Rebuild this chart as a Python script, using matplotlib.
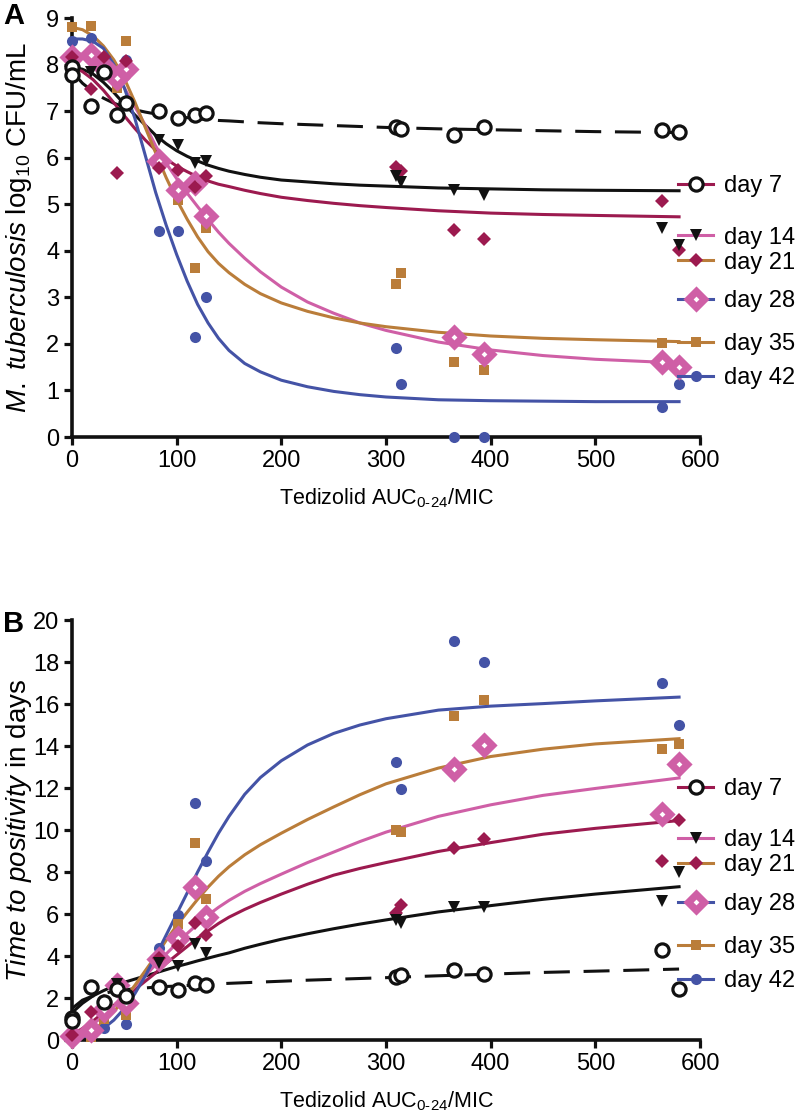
import matplotlib
matplotlib.use("Agg")
import matplotlib.pyplot as plt
import numpy as np
from matplotlib.lines import Line2D

plt.rcParams['font.family'] = ['Liberation Sans', 'DejaVu Sans']
plt.rcParams['mathtext.fontset'] = 'custom'
plt.rcParams['mathtext.rm'] = 'Liberation Sans'
plt.rcParams['mathtext.it'] = 'Liberation Sans:italic'

# AUC0-24/MIC exposures (shared by both panels)
auc = [0, 0, 18, 31, 43, 52, 83, 101, 118, 128, 310, 314, 365, 394, 564, 580]

labels = ['day 7', 'day 14', 'day 21', 'day 28', 'day 35', 'day 42']
nan = np.nan

# panel A: log10 CFU/mL
cfu_d7 = [7.95, 7.78, 7.1, 7.85, 6.92, 7.17, 7.0, 6.85, 6.92, 6.96, 6.65, 6.62, 6.49, 6.67, 6.6, 6.55]
cfu_d14 = [nan, nan, 7.85, 7.8, nan, 7.14, 6.39, 6.28, 5.89, 5.92, 5.6, 5.48, 5.31, 5.2, 4.5, 4.13]
cfu_d21 = [8.17, nan, 7.48, 8.17, 5.67, 8.07, 5.78, 5.74, 5.36, 5.6, 5.8, 5.72, 4.45, 4.26, 5.06, 4.02]
cfu_d28 = [8.17, nan, 8.2, 7.95, 7.72, 7.9, 5.92, 5.31, 5.46, 4.75, nan, nan, 2.15, 1.78, 1.61, 1.5]
cfu_d35 = [8.8, nan, 8.82, nan, 7.5, 8.5, nan, 5.1, 3.63, 4.5, 3.29, 3.53, 1.61, 1.44, 2.02, nan]
cfu_d42 = [8.5, nan, 8.57, nan, nan, 8.1, 4.43, 4.43, 2.15, 3.0, 1.91, 1.14, 0, 0, 0.65, 1.14]

# panel B: time to positivity (days)
ttp_d7 = [1.05, 0.9, 2.52, 1.81, 2.45, 2.1, 2.52, 2.38, 2.71, 2.62, 3.0, 3.08, 3.33, 3.14, 4.29, 2.43]
ttp_d14 = [nan, nan, nan, nan, 2.65, nan, 3.67, 3.52, 4.57, 4.14, 5.72, 5.55, 6.33, 6.33, 6.62, 8.0]
ttp_d21 = [0.24, nan, 1.33, 1.85, 2.55, 2.1, 3.9, 4.48, 5.57, 5.0, 6.05, 6.43, 9.14, 9.57, 8.52, 10.48]
ttp_d28 = [0.2, nan, 0.48, 1.43, 2.6, 1.76, 3.85, 4.86, 7.29, 5.86, nan, nan, 12.9, 14.05, 10.76, 13.14]
ttp_d35 = [nan, nan, 0.15, 1.0, nan, 1.19, nan, 5.52, 9.38, 6.71, 10.0, 9.9, 15.43, 16.19, 13.86, 14.1]
ttp_d42 = [nan, nan, nan, 0.57, nan, 0.76, 4.4, 5.95, 11.3, 8.52, 13.24, 11.95, 19.0, 18.0, 17.0, 15.0]

# fitted curves at these exposures
fit_x = [0, 10, 20, 30, 40, 50, 60, 70, 80, 90, 100, 110, 120, 130, 140, 150, 165, 180, 200,
         225, 250, 275, 300, 350, 400, 450, 500, 580]
fitA_d7 = [7.85, 7.6, 7.42, 7.28, 7.17, 7.09, 7.03, 6.98, 6.94, 6.91, 6.88, 6.86, 6.84, 6.82, 6.8, 6.79,
           6.77, 6.75, 6.73, 6.71, 6.69, 6.67, 6.65, 6.62, 6.6, 6.58, 6.56, 6.54]
fitA_d14 = [7.95, 7.9, 7.8, 7.62, 7.4, 7.15, 6.92, 6.7, 6.48, 6.3, 6.15, 6.03, 5.93, 5.84, 5.77, 5.71,
            5.64, 5.58, 5.52, 5.48, 5.44, 5.41, 5.39, 5.35, 5.33, 5.31, 5.3, 5.29]
fitA_d21 = [7.95, 7.85, 7.68, 7.45, 7.18, 6.9, 6.63, 6.38, 6.16, 5.97, 5.82, 5.7, 5.59, 5.5, 5.43, 5.38,
            5.3, 5.23, 5.15, 5.08, 5.02, 4.97, 4.93, 4.86, 4.81, 4.78, 4.76, 4.73]
fitA_d28 = [8.25, 8.22, 8.15, 8.0, 7.8, 7.5, 7.1, 6.7, 6.25, 5.88, 5.55, 5.24, 4.95, 4.67, 4.4, 4.16,
            3.84, 3.55, 3.22, 2.9, 2.66, 2.45, 2.29, 2.04, 1.87, 1.75, 1.67, 1.59]
fitA_d35 = [8.8, 8.75, 8.62, 8.4, 8.1, 7.7, 7.2, 6.65, 6.1, 5.57, 5.1, 4.68, 4.3, 3.98, 3.73, 3.53,
            3.28, 3.08, 2.88, 2.7, 2.56, 2.45, 2.37, 2.25, 2.17, 2.12, 2.09, 2.05]
fitA_d42 = [8.55, 8.55, 8.5, 8.35, 8.0, 7.5, 6.85, 6.05, 5.25, 4.55, 3.92, 3.35, 2.85, 2.45, 2.12, 1.86,
            1.58, 1.4, 1.22, 1.08, 0.98, 0.91, 0.86, 0.8, 0.78, 0.77, 0.76, 0.76]

fitB_d7 = [1.5, 1.9, 2.1, 2.22, 2.32, 2.39, 2.44, 2.48, 2.52, 2.55, 2.57, 2.6, 2.62, 2.65, 2.68, 2.7,
           2.73, 2.76, 2.8, 2.85, 2.89, 2.93, 2.97, 3.06, 3.14, 3.22, 3.28, 3.38]
fitB_d14 = [1.3, 1.75, 2.1, 2.35, 2.57, 2.75, 2.9, 3.05, 3.2, 3.35, 3.5, 3.63, 3.77, 3.9, 4.03, 4.15,
            4.37, 4.56, 4.8, 5.06, 5.3, 5.52, 5.72, 6.1, 6.4, 6.7, 6.95, 7.3]
fitB_d21 = [0.25, 0.55, 0.9, 1.3, 1.65, 2.0, 2.4, 2.8, 3.2, 3.65, 4.05, 4.45, 4.85, 5.2, 5.55, 5.85,
            6.22, 6.55, 6.95, 7.42, 7.85, 8.17, 8.45, 8.98, 9.4, 9.8, 10.08, 10.45]
fitB_d28 = [0.15, 0.4, 0.75, 1.15, 1.6, 2.05, 2.55, 3.05, 3.6, 4.1, 4.6, 5.07, 5.52, 5.95, 6.32, 6.65,
            7.08, 7.45, 7.9, 8.45, 8.95, 9.45, 9.9, 10.65, 11.2, 11.65, 11.98, 12.48]
fitB_d35 = [0.0, 0.15, 0.45, 0.85, 1.35, 1.95, 2.6, 3.3, 4.0, 4.75, 5.45, 6.08, 6.7, 7.28, 7.8, 8.25,
            8.82, 9.3, 9.85, 10.5, 11.1, 11.68, 12.2, 12.95, 13.5, 13.85, 14.1, 14.35]
fitB_d42 = [0.0, 0.05, 0.25, 0.55, 0.95, 1.5, 2.2, 3.05, 4.0, 5.0, 6.0, 7.0, 8.0, 8.95, 9.85, 10.65,
            11.7, 12.5, 13.3, 14.05, 14.6, 15.0, 15.3, 15.71, 15.9, 16.02, 16.15, 16.33]

BLACK = '#111111'
CRIMSON = '#9C1A4F'
PINK = '#CF5FA6'
ORANGE = '#BA7D3A'
BLUE = '#4453A6'
colors = [BLACK, BLACK, CRIMSON, PINK, ORANGE, BLUE]

markers = [
    dict(marker='o', ms=9.5, mfc='white', mec=BLACK, mew=2.3),
    dict(marker='v', ms=9, mfc=BLACK, mec=BLACK, mew=0),
    dict(marker='D', ms=7.5, mfc=CRIMSON, mec=CRIMSON, mew=0),
    dict(marker='D', ms=8.2, mfc='white', mec=PINK, mew=5.2),
    dict(marker='s', ms=7.5, mfc=ORANGE, mec=ORANGE, mew=0),
    dict(marker='o', ms=8, mfc=BLUE, mec=BLUE, mew=0),
]
# line colours used in the original legend swatches
legend_line_colors = [CRIMSON, PINK, ORANGE, BLUE, ORANGE, BLUE]
legend_y = [0.598, 0.476, 0.416, 0.324, 0.222, 0.14]


def draw_panel(ax, pts, fits, yticks, ylabel):
    for i in range(6):
        ls = (0, (8.5, 4.5)) if i == 0 else '-'
        ax.plot(fit_x, fits[i], color=colors[i], lw=2.2, ls=ls, zorder=2)
    order = [5, 4, 3, 2, 1, 0]
    for i in order:
        ax.plot(auc, pts[i], ls='none', clip_on=False, zorder=3 + (5 - i) * 0.1, **markers[i])
    ax.set_xlim(0, 600)
    ax.set_ylim(yticks[0], yticks[-1])
    ax.set_xticks(range(0, 601, 100))
    ax.set_yticks(yticks)
    for s in ['top', 'right']:
        ax.spines[s].set_visible(False)
    for s in ['left', 'bottom']:
        ax.spines[s].set_linewidth(2.6)
        ax.spines[s].set_color(BLACK)
    ax.tick_params(direction='out', length=6, width=2.3, labelsize=17, color=BLACK, pad=3)
    ax.set_xlabel(r'Tedizolid AUC$_{\mathrm{0\text{-}24}}$/MIC', fontsize=15.5, labelpad=11)
    ax.set_ylabel(ylabel, fontsize=20, labelpad=6)
    ax.yaxis.set_label_coords(-0.06, 0.5)
    legs = []
    for i in range(6):
        h = Line2D([0], [0], color=legend_line_colors[i], lw=2.2, **markers[i])
        leg = ax.legend([h], [labels[i]], loc='center left', bbox_to_anchor=(0.965, legend_y[i]),
                        frameon=False, fontsize=17, handlelength=1.5, handletextpad=0.45,
                        borderpad=0, borderaxespad=0)
        legs.append(leg)
    ax.legend_ = None
    for leg in legs:
        ax.add_artist(leg)


fig = plt.figure(figsize=(7.99, 11.2), dpi=100)
axA = fig.add_axes([0.0901, 0.6098, 0.786, 0.3741])
axB = fig.add_axes([0.0901, 0.0714, 0.786, 0.375])

draw_panel(axA, [cfu_d7, cfu_d14, cfu_d21, cfu_d28, cfu_d35, cfu_d42],
           [fitA_d7, fitA_d14, fitA_d21, fitA_d28, fitA_d35, fitA_d42],
           list(range(0, 10)), r'$\mathit{M.\ tuberculosis}$ log$_{10}$ CFU/mL')
draw_panel(axB, [ttp_d7, ttp_d14, ttp_d21, ttp_d28, ttp_d35, ttp_d42],
           [fitB_d7, fitB_d14, fitB_d21, fitB_d28, fitB_d35, fitB_d42],
           list(range(0, 21, 2)), r'$\mathit{Time\ to\ positivity}$ in days')

fig.text(0.004, 0.998, 'A', fontsize=21, fontweight='bold', va='top', ha='left')
fig.text(0.004, 0.455, 'B', fontsize=21, fontweight='bold', va='top', ha='left')

fig.savefig('out.png', dpi=100)
